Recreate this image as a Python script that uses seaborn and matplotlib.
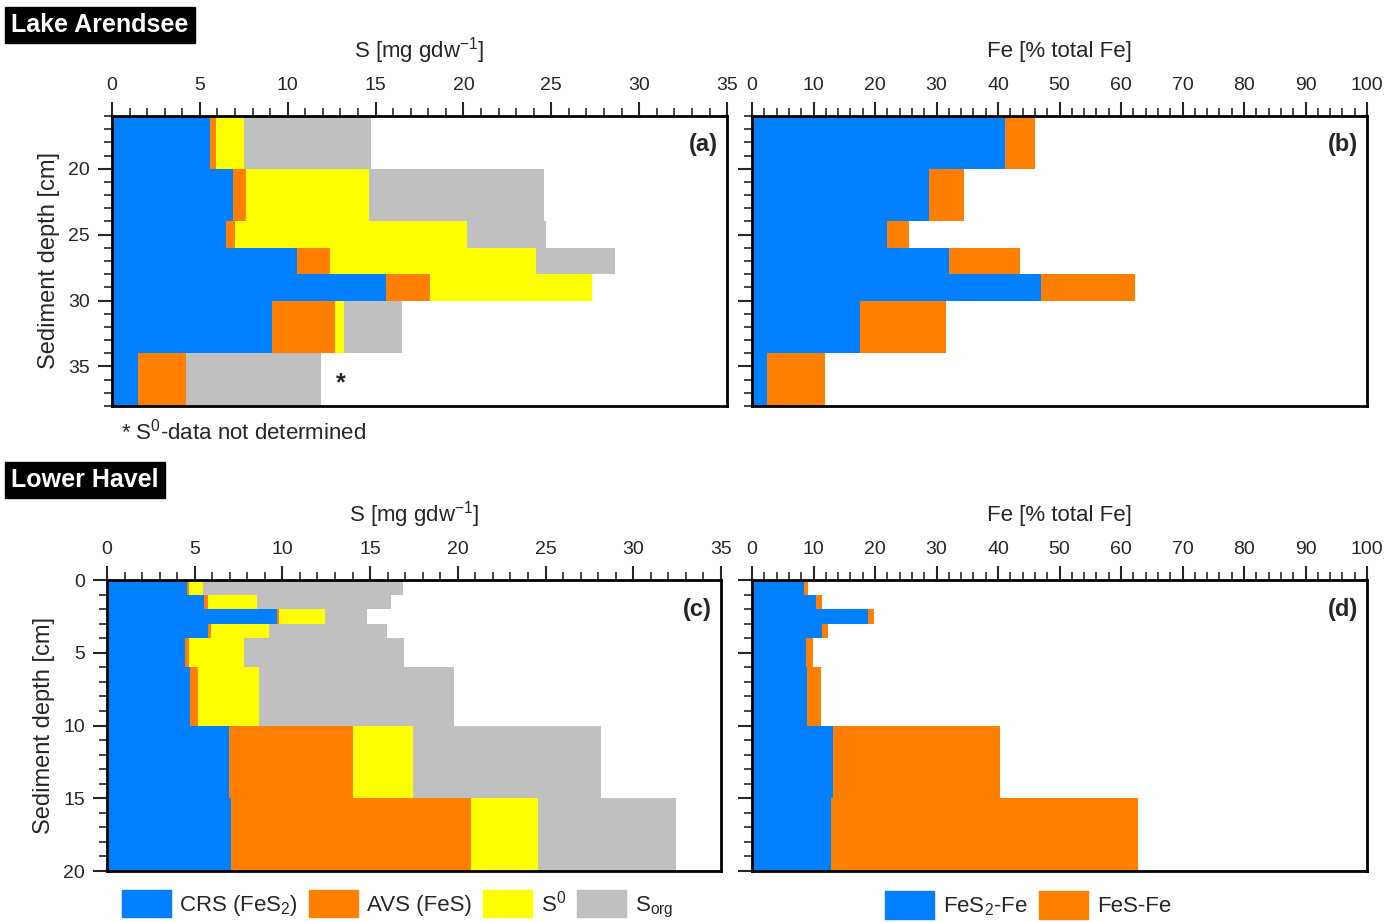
import numpy as np
import matplotlib
matplotlib.use('Agg')
import matplotlib.pyplot as plt
import matplotlib.patches as mpatches
from matplotlib.ticker import MultipleLocator
import seaborn as sns

sns.set_style('ticks')
plt.rcParams['font.family'] = ['Liberation Sans', 'DejaVu Sans']
plt.rcParams['mathtext.default'] = 'regular'

# Lake Arendsee depth intervals [cm]
ar_top = [16, 20, 24, 26, 28, 30, 34]
ar_bot = [20, 24, 26, 28, 30, 34, 38]
# S species [mg gdw-1]
ar_crs = [5.6, 6.9, 6.5, 10.5, 15.6, 9.1, 1.5]
ar_avs = [0.3, 0.7, 0.5, 1.9, 2.5, 3.6, 2.7]
ar_s0 = [1.6, 7.0, 13.2, 11.7, 9.2, 0.5, 0.0]
ar_sorg = [7.25, 10.0, 4.5, 4.5, 0.0, 3.3, 7.7]
# Fe [% total Fe]
ar_fes2_fe = [41.1, 28.8, 21.9, 32.0, 46.9, 17.5, 2.4]
ar_fes_fe = [4.9, 5.6, 3.7, 11.5, 15.4, 14.1, 9.4]

# Lower Havel
lh_top = [0, 1, 2, 3, 4, 6, 10, 15]
lh_bot = [1, 2, 3, 4, 6, 10, 15, 20]
lh_crs = [4.55, 5.55, 9.7, 5.75, 4.45, 4.75, 6.95, 7.05]
lh_avs = [0.15, 0.2, 0.1, 0.2, 0.2, 0.45, 7.05, 13.7]
lh_s0 = [0.8, 2.8, 2.65, 3.3, 3.15, 3.45, 3.45, 3.8]
lh_sorg = [11.4, 7.65, 2.35, 6.7, 9.15, 11.15, 10.7, 7.9]
lh_fes2_fe = [8.4, 10.4, 18.9, 11.4, 8.8, 9.0, 13.2, 12.8]
lh_fes_fe = [0.7, 1.0, 0.9, 1.0, 1.1, 2.2, 27.1, 49.9]

c_blue = '#0080ff'
c_orange = '#ff8000'
c_yellow = '#ffff00'
c_grey = '#c0c0c0'

s_labels = ['CRS (FeS$_2$)', 'AVS (FeS)', 'S$^0$', 'S$_{org}$']
fe_labels = ['FeS$_2$-Fe', 'FeS-Fe']

FS = 15


def stacked_profile(ax, top, bot, parts, colors):
    top = np.array(top, dtype=float)
    thick = np.array(bot, dtype=float) - top
    left = np.zeros(len(top))
    for vals, col in zip(parts, colors):
        vals = np.array(vals, dtype=float)
        ax.barh(top, vals, height=thick, left=left, align='edge',
                color=col, edgecolor='none', linewidth=0)
        left = left + vals


def style_axis(ax, xmax, xmajor, xminor, ylim, ymajor, show_ylabels, xlabel, tag):
    ax.set_xlim(0, xmax)
    ax.set_ylim(ylim[1], ylim[0])
    ax.xaxis.set_major_locator(MultipleLocator(xmajor))
    ax.xaxis.set_minor_locator(MultipleLocator(xminor))
    ax.yaxis.set_major_locator(MultipleLocator(ymajor))
    ax.yaxis.set_minor_locator(MultipleLocator(1))
    ax.tick_params(axis='x', which='both', top=True, bottom=False,
                   labeltop=True, labelbottom=False, direction='out')
    ax.tick_params(axis='y', which='both', left=True, right=False,
                   labelleft=show_ylabels, direction='out')
    ax.tick_params(which='major', length=10, width=1.5, labelsize=FS - 1, pad=6)
    ax.tick_params(which='minor', length=6, width=1.2)
    for sp in ax.spines.values():
        sp.set_visible(True)
        sp.set_linewidth(2)
        sp.set_color('black')
    ax.xaxis.set_label_position('top')
    ax.set_xlabel(xlabel, fontsize=FS + 1, labelpad=14)
    ax.text(0.985, 0.9, tag, transform=ax.transAxes, ha='right', va='center',
            fontsize=FS + 2, fontweight='bold')


fig = plt.figure(figsize=(13.95, 9.22), dpi=100)
ax_a = fig.add_axes([0.0803, 0.5597, 0.4409, 0.3145])
ax_b = fig.add_axes([0.5391, 0.5597, 0.4409, 0.3145])
ax_c = fig.add_axes([0.0767, 0.0553, 0.4401, 0.3156])
ax_d = fig.add_axes([0.5391, 0.0553, 0.4409, 0.3156])

stacked_profile(ax_a, ar_top, ar_bot, [ar_crs, ar_avs, ar_s0, ar_sorg],
                [c_blue, c_orange, c_yellow, c_grey])
stacked_profile(ax_b, ar_top, ar_bot, [ar_fes2_fe, ar_fes_fe], [c_blue, c_orange])
stacked_profile(ax_c, lh_top, lh_bot, [lh_crs, lh_avs, lh_s0, lh_sorg],
                [c_blue, c_orange, c_yellow, c_grey])
stacked_profile(ax_d, lh_top, lh_bot, [lh_fes2_fe, lh_fes_fe], [c_blue, c_orange])

s_xlabel = 'S [mg gdw$^{-1}$]'
fe_xlabel = 'Fe [% total Fe]'
style_axis(ax_a, 35, 5, 1, (16, 38), 5, True, s_xlabel, '(a)')
style_axis(ax_b, 100, 10, 2, (16, 38), 5, False, fe_xlabel, '(b)')
style_axis(ax_c, 35, 5, 1, (0, 20), 5, True, s_xlabel, '(c)')
style_axis(ax_d, 100, 10, 2, (0, 20), 5, False, fe_xlabel, '(d)')
ax_a.set_yticks([20, 25, 30, 35])
ax_a.set_ylabel('Sediment depth [cm]', fontsize=FS + 2, labelpad=6)
ax_c.set_ylabel('Sediment depth [cm]', fontsize=FS + 2, labelpad=6)

# S0 not determined for the deepest Arendsee sample
ax_a.text(13.0, 36.3, '*', fontsize=FS + 3, fontweight='bold', ha='center', va='center')
fig.text(0.087, 1 - 432 / 922, '* S$^0$-data not determined', fontsize=FS + 1,
         ha='left', va='center')

box = dict(facecolor='black', edgecolor='black', boxstyle='square,pad=0.25')
fig.text(0.008, 1 - 25 / 922, 'Lake Arendsee', color='white', fontsize=FS + 3,
         fontweight='bold', ha='left', va='center', bbox=box)
fig.text(0.008, 1 - 480 / 922, 'Lower Havel', color='white', fontsize=FS + 3,
         fontweight='bold', ha='left', va='center', bbox=box)

s_handles = [mpatches.Patch(color=c, label=l)
             for c, l in zip([c_blue, c_orange, c_yellow, c_grey], s_labels)]
fe_handles = [mpatches.Patch(color=c, label=l)
              for c, l in zip([c_blue, c_orange], fe_labels)]
leg_kw = dict(loc='center', ncol=4, frameon=False, fontsize=FS + 1,
              handlelength=2.2, handleheight=1.5, handletextpad=0.4,
              columnspacing=0.5, borderaxespad=0)
fig.legend(handles=s_handles, bbox_to_anchor=(0.285, 1 - 905 / 922), **leg_kw)
leg_kw['ncol'] = 2
fig.legend(handles=fe_handles, bbox_to_anchor=(0.737, 1 - 905 / 922), **leg_kw)

fig.savefig('out.png', dpi=100)
